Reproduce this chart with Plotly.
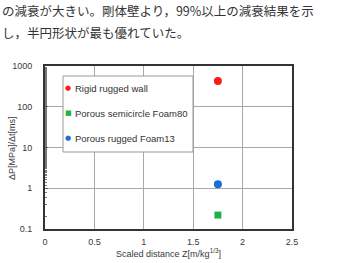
import plotly.graph_objects as go

series_names = ["Rigid rugged wall", "Porous semicircle Foam80", "Porous rugged Foam13"]
series_x = [[1.75], [1.75], [1.75]]
series_y = [[430], [0.22], [1.25]]
series_colors = ["#ff1a1a", "#1db34a", "#1a6fd1"]
series_symbols = ["circle", "square", "circle"]
legend_glyphs = ["●", "■", "●"]
x_ticks = [0, 0.5, 1, 1.5, 2, 2.5]
y_ticks = [0.1, 1, 10, 100, 1000]
y_tick_labels = ["0.1", "1", "10", "100", "1000"]
x_title = "Scaled distance Z[m/kg<sup>1/3</sup>]"
y_title = "ΔP[MPa]/Δt[ms]"
caption_lines = ["の減衰が大きい。剛体壁より，99%以上の減衰結果を示",
                 "し，半円形状が最も優れていた。"]

W, H = 357, 263
L, R, T, B = 45, 292, 66, 229
pw, ph = R - L, B - T

def px(x):
    return (x - L) / pw

def py(y):
    return (B - y) / ph

fig = go.Figure()
for name, xs, ys, c, s in zip(series_names, series_x, series_y, series_colors, series_symbols):
    fig.add_trace(go.Scatter(x=xs, y=ys, mode="markers", name=name,
                             marker=dict(color=c, symbol=s, size=8 if s == "circle" else 7,
                                         line=dict(width=0)),
                             showlegend=False))

font = "Liberation Sans, Arial, sans-serif"
fig.update_layout(
    width=W, height=H,
    margin=dict(l=L, r=W - R, t=T, b=H - B),
    paper_bgcolor="white", plot_bgcolor="white",
    font=dict(family=font, size=9, color="#3a3a3a"),
    xaxis=dict(range=[0, 2.5], tickvals=x_ticks, ticktext=[str(v) for v in x_ticks],
               showgrid=True, gridcolor="#a8a8a8", gridwidth=1,
               showline=True, linecolor="#333", linewidth=2, mirror=True,
               ticks="", zeroline=False, ticklabelstandoff=3, automargin=False,
               title=dict(text=x_title, standoff=3,
                          font=dict(size=9, color="#3a3a3a"))),
    yaxis=dict(type="log", range=[-1, 3], tickvals=y_ticks, ticktext=y_tick_labels,
               showgrid=True, gridcolor="#a8a8a8", gridwidth=1,
               showline=True, linecolor="#333", linewidth=2, mirror=True,
               ticks="inside", ticklen=3, tickcolor="#555", zeroline=False,
               ticklabelstandoff=9, automargin=False,
               minor=dict(ticks="inside", ticklen=2, tickcolor="#777", showgrid=False)),
    showlegend=False,
)

fig.add_annotation(x=px(12), y=py(148), xref="paper", yref="paper", text=y_title,
                   textangle=-90, showarrow=False, xanchor="center", yanchor="middle",
                   font=dict(size=9, color="#3a3a3a", family=font))

# legend box
lx0, lx1, ly0, ly1 = 63, 193, 76, 152
fig.add_shape(type="rect", xref="paper", yref="paper",
              x0=px(lx0), x1=px(lx1), y0=py(ly1), y1=py(ly0),
              line=dict(color="#999", width=1), fillcolor="white", layer="above")
for i, (name, c, g) in enumerate(zip(series_names, series_colors, legend_glyphs)):
    yy = py(88 + 25 * i)
    fig.add_annotation(x=px(68), y=yy, xref="paper", yref="paper", text=g,
                       showarrow=False, xanchor="center", yanchor="middle",
                       font=dict(size=7, color=c, family="DejaVu Sans"))
    fig.add_annotation(x=px(73), y=yy, xref="paper", yref="paper", text=name,
                       showarrow=False, xanchor="left", yanchor="middle",
                       font=dict(size=9.5, color="#333", family=font))

for i, line in enumerate(caption_lines):
    fig.add_annotation(x=px(0), y=py(11 + 21 * i), xref="paper", yref="paper",
                       text=line, showarrow=False, xanchor="left", yanchor="middle",
                       font=dict(size=12.5, color="#333", family="Noto Sans CJK JP"))

fig.write_html("out.html")
